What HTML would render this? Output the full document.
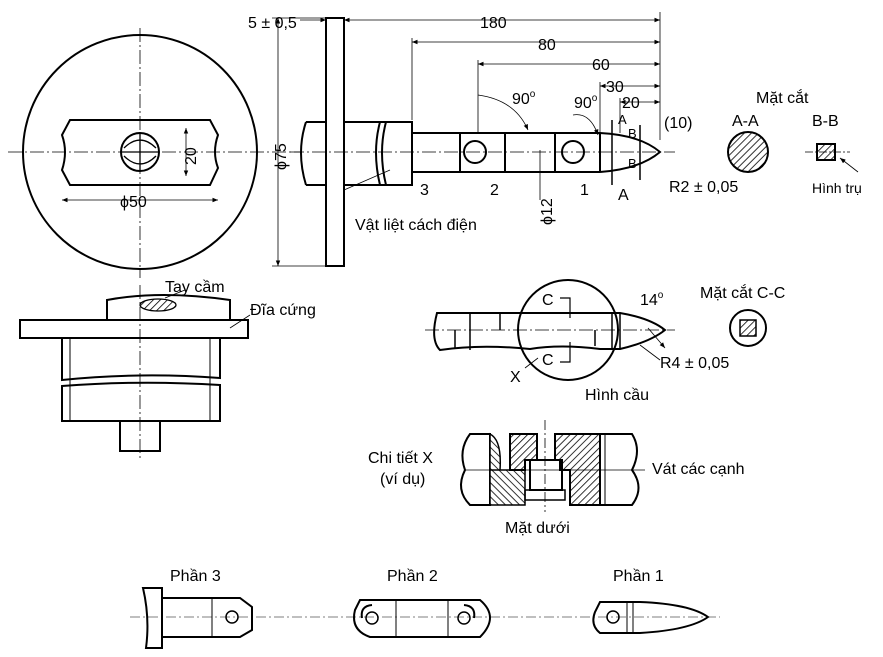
<!DOCTYPE html>
<html><head><meta charset="utf-8"><style>
html,body{margin:0;padding:0;background:#fff}
svg{display:block}
text{font-family:"Liberation Sans","DejaVu Sans",sans-serif;fill:#000}
</style></head><body>
<svg width="883" height="657" viewBox="0 0 883 657" xmlns="http://www.w3.org/2000/svg">
<defs>
<pattern id="h" width="5" height="5" patternUnits="userSpaceOnUse" patternTransform="rotate(45)"><rect width="5" height="5" fill="#fff"/><line x1="0" y1="0" x2="0" y2="5" stroke="#000" stroke-width="1.6"/></pattern>
<pattern id="h2" width="5" height="5" patternUnits="userSpaceOnUse" patternTransform="rotate(-45)"><rect width="5" height="5" fill="#fff"/><line x1="0" y1="0" x2="0" y2="5" stroke="#000" stroke-width="1.6"/></pattern>
<marker id="a" viewBox="0 0 10 10" refX="10" refY="5" markerWidth="7" markerHeight="7" orient="auto-start-reverse"><path d="M0,1L10,5L0,9z"/></marker>
</defs>
<g stroke="#000" fill="none" stroke-width="1.3">
<!-- front view disc -->
<circle cx="140" cy="152" r="117" stroke-width="2"/>
<path d="M70,120 L210,120 L218,135 Q212,152 218,168 L210,185 L70,185 L62,170 Q68,152 62,135 Z" stroke-width="2"/>
<circle cx="140" cy="152" r="19" stroke-width="2"/>
<path d="M124,148 Q140,132 156,148 M124,156 Q140,172 156,156 M121,152 H159 M140,133 V171" />
<line x1="8" y1="152" x2="300" y2="152" stroke-width=".8" stroke-dasharray="14,3,2,3"/>
<line x1="140" y1="28" x2="140" y2="278" stroke-width=".8" stroke-dasharray="14,3,2,3"/>
<line x1="62" y1="200" x2="218" y2="200" stroke-width=".8" marker-start="url(#a)" marker-end="url(#a)"/>
<line x1="186" y1="128" x2="186" y2="176" stroke-width=".8" marker-start="url(#a)" marker-end="url(#a)"/>
<!-- side view -->
<rect x="326" y="18" width="18" height="248" stroke-width="2"/>
<path d="M306,122 H326 M306,185 H326 M306,122 Q296,152 306,185" stroke-width="2"/>
<path d="M344,122 H412 V185 H344 M380,122 Q372,152 380,185 M386,122 Q378,152 386,185" stroke-width="2"/>
<path d="M412,133 H600 M412,172 H600 M600,133 Q640,135 660,152 Q640,169 600,172 M460,133 V172 M505,133 V172 M555,133 V172 M600,133 V172" stroke-width="2"/>
<circle cx="475" cy="152" r="11" stroke-width="2"/><circle cx="573" cy="152" r="11" stroke-width="2"/>
<line x1="290" y1="152" x2="675" y2="152" stroke-width=".8" stroke-dasharray="14,3,2,3"/>
<line x1="272" y1="18" x2="326" y2="18" stroke-width=".8"/><line x1="272" y1="266" x2="326" y2="266" stroke-width=".8"/>
<line x1="278" y1="18" x2="278" y2="266" stroke-width=".8" marker-start="url(#a)" marker-end="url(#a)"/>
<line x1="660" y1="12" x2="660" y2="140" stroke-width=".8"/>
<line x1="344" y1="20" x2="660" y2="20" stroke-width=".8" marker-start="url(#a)" marker-end="url(#a)"/>
<line x1="300" y1="20" x2="326" y2="20" stroke-width=".8" marker-end="url(#a)"/>
<line x1="412" y1="38" x2="412" y2="120" stroke-width=".8"/>
<line x1="412" y1="42" x2="660" y2="42" stroke-width=".8" marker-start="url(#a)" marker-end="url(#a)"/>
<line x1="478" y1="60" x2="478" y2="133" stroke-width=".8"/>
<line x1="478" y1="64" x2="660" y2="64" stroke-width=".8" marker-start="url(#a)" marker-end="url(#a)"/>
<line x1="600" y1="82" x2="600" y2="133" stroke-width=".8"/>
<line x1="600" y1="86" x2="660" y2="86" stroke-width=".8" marker-start="url(#a)" marker-end="url(#a)"/>
<line x1="620" y1="98" x2="620" y2="133" stroke-width=".8"/>
<line x1="620" y1="102" x2="660" y2="102" stroke-width=".8" marker-start="url(#a)" marker-end="url(#a)"/>
<path d="M478,95 Q515,100 528,130" stroke-width=".8" marker-end="url(#a)"/>
<path d="M573,115 Q590,112 598,135" stroke-width=".8" marker-end="url(#a)"/>
<line x1="612" y1="120" x2="612" y2="185" stroke-width="1.5"/>
<line x1="640" y1="125" x2="640" y2="180" stroke-width="1.5"/>
<line x1="344" y1="190" x2="390" y2="170" stroke-width=".8"/>
<line x1="540" y1="150" x2="540" y2="200" stroke-width=".8"/>
<!-- sections -->
<circle cx="748" cy="152" r="20" fill="url(#h)" stroke-width="2"/>
<rect x="817" y="144" width="18" height="16" fill="url(#h)" stroke-width="2"/>
<line x1="805" y1="152" x2="850" y2="152" stroke-width=".8" stroke-dasharray="8,2,2,2"/>
<line x1="840" y1="158" x2="858" y2="172" stroke-width=".8" marker-start="url(#a)"/>
<!-- lower left -->
<rect x="20" y="320" width="228" height="18" stroke-width="2"/>
<path d="M107,320 V300 Q160,290 230,300 V320" stroke-width="2"/>
<ellipse cx="158" cy="305" rx="18" ry="6" fill="url(#h)"/>
<path d="M62,338 H220 V378 Q140,372 62,380 Z" stroke-width="2"/>
<path d="M62,386 Q140,380 220,385 V421 H62 Z" stroke-width="2"/>
<path d="M70,338 V421 M210,338 V421" stroke-width="1"/>
<rect x="120" y="421" width="40" height="30" stroke-width="2"/>
<line x1="140" y1="285" x2="140" y2="460" stroke-width=".8" stroke-dasharray="14,3,2,3"/>
<line x1="165" y1="298" x2="185" y2="290" stroke-width=".8"/>
<line x1="230" y1="328" x2="250" y2="315" stroke-width=".8"/>
<!-- middle -->
<path d="M437,313 H620 Q650,318 665,330 Q650,342 620,349 H600 Q560,344 530,349 Q480,344 440,350 Q430,340 437,313 Z" stroke-width="2"/>
<path d="M500,313 V330 M612,313 V349 M620,313 V349 M470,313 V350 M455,330 V348 M595,330 V346" stroke-width="1.5"/>
<circle cx="568" cy="330" r="50" stroke-width="2"/>
<line x1="425" y1="330" x2="675" y2="330" stroke-width=".8" stroke-dasharray="14,3,2,3"/>
<path d="M560,298 H570 V318 M560,362 H570 V342" stroke-width="1.2"/>
<circle cx="748" cy="328" r="18" stroke-width="2"/>
<rect x="740" y="320" width="16" height="16" fill="url(#h)" stroke-width="1.5"/>
<line x1="640" y1="345" x2="660" y2="360" stroke-width=".8"/>
<line x1="648" y1="328" x2="665" y2="348" stroke-width=".8" marker-end="url(#a)"/>
<line x1="525" y1="368" x2="538" y2="358" stroke-width=".8"/>
<!-- detail X -->
<path d="M470,434 H490 V505 H470 Q455,490 465,470 Q458,450 470,434 Z" stroke-width="2"/>
<path d="M490,434 Q502,440 500,470 H490 Z M490,470 H525 V505 H490 Z" fill="url(#h2)" stroke-width="1.5"/>
<path d="M510,434 H537 V460 H525 V470 H510 Z" fill="url(#h)" stroke-width="2"/>
<path d="M555,434 H600 V505 H570 V470 H560 V460 H555 Z" fill="url(#h)" stroke-width="2"/>
<rect x="530" y="460" width="32" height="30" stroke-width="2"/>
<path d="M525,490 H565 V500 H525 Z" stroke-width="1.5"/>
<path d="M600,434 H632 Q642,450 632,470 Q645,488 632,505 H600" stroke-width="2"/>
<line x1="605" y1="434" x2="605" y2="505" stroke-width="1"/>
<line x1="545" y1="420" x2="545" y2="512" stroke-width=".8" stroke-dasharray="10,3,2,3"/>
<line x1="465" y1="470" x2="645" y2="470" stroke-width=".8"/>
<!-- bottom parts -->
<path d="M143,588 H162 V648 H146 Q150,618 143,588 Z M162,598 H240 L252,607 V630 L240,637 H162" stroke-width="2"/>
<path d="M212,598 V637" stroke-width="1"/>
<circle cx="232" cy="617" r="6" stroke-width="1.5"/>
<path d="M360,600 H480 Q500,617 480,637 H370 Q350,630 355,610 Z" stroke-width="2"/>
<path d="M396,600 V637 M448,600 V637" stroke-width="1"/>
<circle cx="372" cy="618" r="6" stroke-width="1.5"/><circle cx="464" cy="618" r="6" stroke-width="1.5"/>
<path d="M362,618 Q360,606 372,605 M474,618 Q476,606 464,605" stroke-width="2"/>
<path d="M600,602 H640 Q690,604 708,617 Q690,630 640,633 H600 Q590,625 595,612 Z" stroke-width="2"/>
<path d="M627,602 V633 M633,602 V633" stroke-width="1"/>
<circle cx="613" cy="617" r="6" stroke-width="1.5"/>
<line x1="130" y1="617" x2="720" y2="617" stroke-width=".6" stroke-dasharray="10,3,2,3"/>
</g>
<g font-size="16">
<text x="248" y="28">5 ± 0,5</text>
<text x="480" y="28">180</text>
<text x="538" y="50">80</text>
<text x="592" y="70">60</text>
<text x="606" y="92">30</text>
<text x="622" y="108">20</text>
<text x="512" y="104">90<tspan font-size="10" dy="-7">o</tspan></text>
<text x="574" y="108">90<tspan font-size="10" dy="-7">o</tspan></text>
<text x="664" y="128">(10)</text>
<text x="420" y="195">3</text><text x="490" y="195">2</text><text x="580" y="195">1</text>
<text x="618" y="124" font-size="13">A</text><text x="618" y="200">A</text>
<text x="628" y="138" font-size="13">B</text><text x="628" y="168" font-size="13">B</text>
<text x="669" y="192">R2 ± 0,05</text>
<text x="355" y="230">Vật liệt cách điện</text>
<text x="120" y="207">ϕ50</text>
<text transform="translate(196,165) rotate(-90)">20</text>
<text transform="translate(286,170) rotate(-90)">ϕ75</text>
<text transform="translate(552,225) rotate(-90)">ϕ12</text>
<text x="756" y="103">Mặt cắt</text>
<text x="732" y="126">A-A</text><text x="812" y="126">B-B</text>
<text x="812" y="193" font-size="14">Hình trụ</text>
<text x="165" y="292">Tay cầm</text>
<text x="250" y="315">Đĩa cứng</text>
<text x="700" y="298">Mặt cắt C-C</text>
<text x="640" y="305">14<tspan font-size="10" dy="-7">o</tspan></text>
<text x="542" y="305">C</text><text x="542" y="365">C</text>
<text x="660" y="368">R4 ± 0,05</text>
<text x="510" y="382">X</text>
<text x="585" y="400">Hình cầu</text>
<text x="368" y="463">Chi tiết X</text>
<text x="380" y="484">(ví dụ)</text>
<text x="652" y="474">Vát các cạnh</text>
<text x="505" y="533">Mặt dưới</text>
<text x="170" y="581">Phần 3</text>
<text x="387" y="581">Phần 2</text>
<text x="613" y="581">Phần 1</text>
</g>
</svg>
</body></html>
